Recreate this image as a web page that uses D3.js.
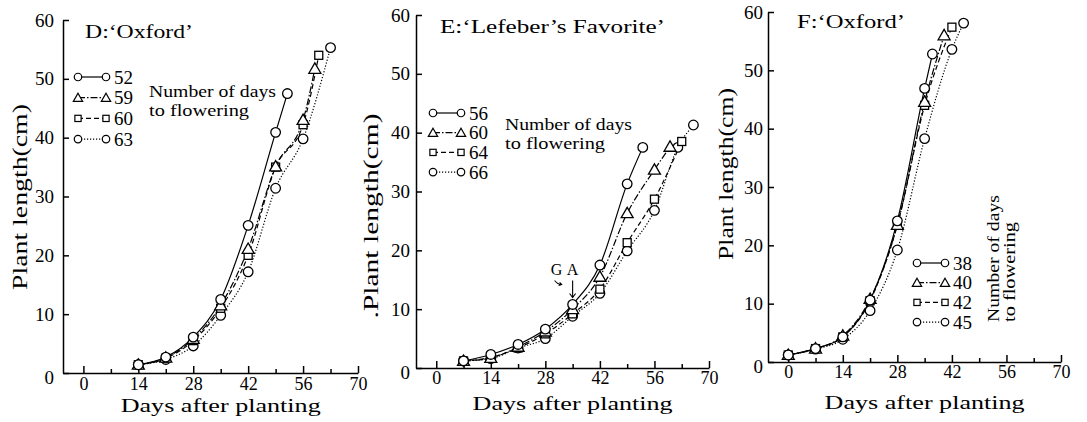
<!DOCTYPE html>
<html lang="en">
<head>
    <meta charset="UTF-8">
    <title>Plant length after planting</title>
    <script src="https://d3js.org/d3.v7.min.js"></script>
    <style>
        body {
            margin: 0;
            background: #fff;
            overflow: hidden;
        }
        text {
            font-family: "Liberation Serif", "Times New Roman", serif;
            fill: #000;
        }
    </style>
</head>
<body>
    <script>
        // tick labels
        const xTicks = [0, 14, 28, 42, 56, 70];
        const xMinor = [7, 21, 35, 49, 63];
        const yTicks = [0, 10, 20, 30, 40, 50, 60];

        // D: 'Oxford'
        const dNames = ["52", "59", "60", "63"];
        const dDays = [
            [14, 21, 28, 35, 42, 49, 52],
            [14, 21, 28, 35, 42, 49, 56, 59],
            [14, 21, 28, 35, 42, 49, 56, 60],
            [14, 21, 28, 35, 42, 49, 56, 63]
        ];
        const dValues = [
            [1.4, 2.7, 6.1, 12.5, 25.1, 40.9, 47.5],
            [1.4, 2.6, 5.8, 11.5, 21.1, 35.1, 43.0, 51.7],
            [1.4, 2.5, 5.5, 11.0, 20.0, 35.0, 42.2, 54.0],
            [1.4, 2.3, 4.6, 9.8, 17.2, 31.4, 39.8, 55.3]
        ];

        // E: 'Lefeber's Favorite'
        const eNames = ["56", "60", "64", "66"];
        const eDays = [
            [7, 14, 21, 28, 35, 42, 49, 53],
            [7, 14, 21, 28, 35, 42, 49, 56, 60],
            [7, 14, 21, 28, 35, 42, 49, 56, 63],
            [7, 14, 21, 28, 35, 42, 49, 56, 62, 66]
        ];
        const eValues = [
            [1.2, 2.3, 4.0, 6.6, 10.8, 17.5, 31.3, 37.5],
            [1.2, 1.7, 3.6, 6.2, 10.0, 15.5, 26.3, 33.7, 37.6],
            [1.2, 1.8, 3.4, 5.8, 9.2, 13.4, 21.3, 28.7, 38.5],
            [1.2, 1.6, 3.4, 5.0, 8.8, 12.7, 19.9, 26.8, 37.5, 41.3]
        ];

        // F: 'Oxford'
        const fNames = ["38", "40", "42", "45"];
        const fDays = [
            [0, 7, 14, 21, 28, 35, 37],
            [0, 7, 14, 21, 28, 35, 40],
            [0, 7, 14, 21, 28, 35, 42],
            [0, 7, 14, 21, 28, 35, 42, 45]
        ];
        const fValues = [
            [1.2, 2.3, 4.3, 10.6, 24.2, 46.9, 52.8],
            [1.2, 2.3, 4.5, 10.8, 23.5, 44.6, 56.0],
            [1.2, 2.3, 4.3, 10.5, 23.5, 44.0, 57.4],
            [1.2, 2.2, 3.9, 8.8, 19.2, 38.3, 53.6, 58.1]
        ];

        const styles = [
            { shape: "circle", dash: null },
            { shape: "triangle", dash: "7,2,1.5,2" },
            { shape: "square", dash: "5,3" },
            { shape: "circle", dash: "1.2,1.8" }
        ];

        const svg = d3.select("body").append("svg")
            .attr("width", 1087)
            .attr("height", 422);

        // draws one open marker at (x, y)
        function marker(g, shape, x, y, s) {
            if (shape === "circle") {
                g.append("circle").attr("cx", x).attr("cy", y).attr("r", 4.8 * s);
            } else if (shape === "square") {
                g.append("rect").attr("x", x - 4 * s).attr("y", y - 4 * s)
                    .attr("width", 8 * s).attr("height", 8 * s);
            } else {
                g.append("path")
                    .attr("transform", `translate(${x},${y + 1})`)
                    .attr("d", d3.symbol(d3.symbolTriangle, 62 * s * s)());
            }
        }

        function drawPanel(p) {
            const x = d3.scaleLinear().domain([-5.2, 70]).range([p.left, p.right]);
            const y = d3.scaleLinear().domain([0, 60]).range([p.bottom, p.top]);
            const g = svg.append("g");

            // axes
            const xa = g.append("g").attr("transform", `translate(0,${p.bottom})`)
                .call(d3.axisBottom(x).tickValues(xTicks).tickSizeInner(-7).tickSizeOuter(0).tickPadding(p.xPad));
            g.append("g").attr("transform", `translate(0,${p.bottom})`)
                .call(d3.axisBottom(x).tickValues(xMinor).tickSizeInner(-4).tickSizeOuter(0).tickFormat(""))
                .select(".domain").remove();
            const ya = g.append("g").attr("transform", `translate(${p.left},0)`)
                .call(d3.axisLeft(y).tickValues(yTicks).tickSizeInner(-6).tickSizeOuter(0).tickPadding(p.yPad));
            g.selectAll(".tick line, .domain").attr("stroke", "#000").attr("stroke-width", 1.5);
            xa.attr("font-size", 18);
            ya.attr("font-size", 19);
            ya.select(".tick text").attr("dy", "0.55em");

            // lines
            const line = d3.line().x(d => x(d[0])).y(d => y(d[1])).curve(d3.curveMonotoneX);
            p.days.forEach((days, i) => {
                g.append("path")
                    .datum(days.map((d, j) => [d, p.values[i][j]]))
                    .attr("d", line)
                    .attr("fill", "none")
                    .attr("stroke", "#000")
                    .attr("stroke-width", 1.2)
                    .attr("stroke-dasharray", styles[i].dash);
            });

            // markers, solid series on top
            const mk = g.append("g").attr("fill", "#fff").attr("stroke", "#000").attr("stroke-width", 1.3);
            for (let i = p.days.length - 1; i >= 0; i--) {
                p.days[i].forEach((d, j) => marker(mk, styles[i].shape, x(d), y(p.values[i][j]), 1));
            }

            // legend
            const lg = g.append("g");
            p.names.forEach((name, i) => {
                const ly = p.legY + i * p.legDy;
                lg.append("line")
                    .attr("x1", p.legX).attr("x2", p.legX + 28)
                    .attr("y1", ly).attr("y2", ly)
                    .attr("stroke", "#000").attr("stroke-width", 1.2)
                    .attr("stroke-dasharray", styles[i].dash);
                const lm = lg.append("g").attr("fill", "#fff").attr("stroke", "#000").attr("stroke-width", 1.2);
                marker(lm, styles[i].shape, p.legX, ly, 0.78);
                marker(lm, styles[i].shape, p.legX + 28, ly, 0.78);
                lg.append("text")
                    .attr("x", p.legX + 36).attr("y", ly + 6.5)
                    .attr("font-size", 19)
                    .text(name);
            });

            // titles
            g.append("text").attr("x", p.titleX).attr("y", p.titleY)
                .attr("font-size", 19).attr("textLength", p.titleW).attr("lengthAdjust", "spacingAndGlyphs")
                .text(p.title);
            g.append("text").attr("x", x(35)).attr("y", p.xLabY)
                .attr("text-anchor", "middle").attr("font-size", 19)
                .attr("textLength", 200).attr("lengthAdjust", "spacingAndGlyphs")
                .text("Days after planting");
            g.append("text")
                .attr("transform", `translate(${p.yLabX},${p.yLabY}) rotate(-90)`)
                .attr("text-anchor", "middle").attr("font-size", 22)
                .attr("textLength", p.yLabW).attr("lengthAdjust", "spacingAndGlyphs")
                .text(p.yLab);

            // note
            p.note.forEach((t, i) => {
                const tx = g.append("text").attr("font-size", 16)
                    .attr("textLength", i === 0 ? 127 : 100).attr("lengthAdjust", "spacingAndGlyphs")
                    .text(t);
                if (p.noteRot) {
                    tx.attr("transform", `translate(${p.noteX + i * 16},${p.noteY}) rotate(-90)`);
                } else {
                    tx.attr("x", p.noteX).attr("y", p.noteY + i * 19);
                }
            });
            return { g, x, y };
        }

        const noteText = ["Number of days", "to flowering"];

        drawPanel({
            left: 63, right: 358, top: 20, bottom: 373, xPad: 4, yPad: 9,
            names: dNames, days: dDays, values: dValues,
            legX: 78, legY: 77, legDy: 20.7,
            title: "D:\u2018Oxford\u2019", titleX: 85, titleY: 38, titleW: 108,
            xLabY: 412, yLab: "Plant length(cm)", yLabX: 27, yLabY: 197, yLabW: 186,
            note: noteText, noteX: 149, noteY: 97, noteRot: false
        });

        const e = drawPanel({
            left: 416, right: 709, top: 15, bottom: 368, xPad: 3, yPad: 6,
            names: eNames, days: eDays, values: eValues,
            legX: 433, legY: 113, legDy: 19.7,
            title: "E:\u2018Lefeber\u2019s Favorite\u2019", titleX: 440, titleY: 33, titleW: 225,
            xLabY: 410, yLab: ".Plant length(cm)", yLabX: 378, yLabY: 216, yLabW: 205,
            note: noteText, noteX: 505, noteY: 130, noteRot: false
        });

        drawPanel({
            left: 768, right: 1061, top: 12, bottom: 362, xPad: 3, yPad: 5,
            names: fNames, days: fDays, values: fValues,
            legX: 917, legY: 263, legDy: 19.7,
            title: "F:\u2018Oxford\u2019", titleX: 797, titleY: 28, titleW: 108,
            xLabY: 409, yLab: "Plant length(cm)", yLabX: 733, yLabY: 174, yLabW: 172,
            note: noteText, noteX: 999, noteY: 322, noteRot: true
        });

        // GA application mark in panel E
        const gx = e.x(35), gy = e.y(eValues[0][4]);
        e.g.append("text").attr("x", gx - 22).attr("y", gy - 29).attr("font-size", 16).text("G");
        e.g.append("text").attr("x", gx - 6).attr("y", gy - 29).attr("font-size", 16).text("A");
        e.g.append("path")
            .attr("d", `M${gx},${gy - 24}L${gx},${gy - 7}M${gx - 3},${gy - 11}L${gx},${gy - 7}L${gx + 3},${gy - 11}`)
            .attr("fill", "none").attr("stroke", "#000").attr("stroke-width", 1.1);
        e.g.append("path")
            .attr("d", `M${gx - 18},${gy - 24}q3,4 7,4M${gx - 13},${gy - 22}l2,2l-3,1`)
            .attr("fill", "none").attr("stroke", "#000").attr("stroke-width", 1.1);
    </script>
</body>
</html>
